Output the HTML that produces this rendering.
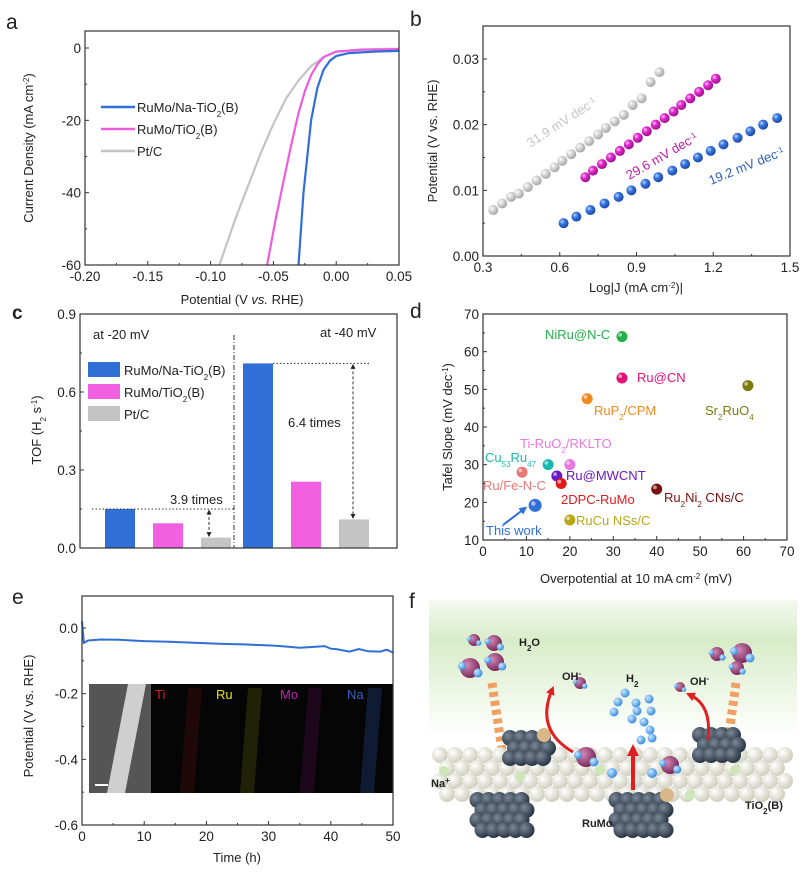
<!DOCTYPE html>
<html><head><meta charset="utf-8"><style>
html,body{margin:0;padding:0;background:#fff;}
svg{display:block;font-family:"Liberation Sans",Arial,sans-serif;}
text{fill:#222;}
</style></head><body>
<svg id="fig" width="807" height="876" viewBox="0 0 807 876" xmlns="http://www.w3.org/2000/svg">
<defs>
<radialGradient id="gBlue" cx="35%" cy="35%" r="65%"><stop offset="0" stop-color="#bcd6ff"/><stop offset="0.4" stop-color="#3a78e0"/><stop offset="1" stop-color="#1c4aa8"/></radialGradient>
<radialGradient id="gPink" cx="35%" cy="35%" r="65%"><stop offset="0" stop-color="#ffc8f6"/><stop offset="0.4" stop-color="#e42ad0"/><stop offset="1" stop-color="#a0108e"/></radialGradient>
<radialGradient id="gGray" cx="35%" cy="35%" r="65%"><stop offset="0" stop-color="#ffffff"/><stop offset="0.5" stop-color="#cfcfcf"/><stop offset="1" stop-color="#a8a8a8"/></radialGradient>
<radialGradient id="gBead" cx="35%" cy="35%" r="65%"><stop offset="0" stop-color="#ffffff"/><stop offset="1" stop-color="#cfcfbf"/></radialGradient>
<radialGradient id="gDark" cx="35%" cy="35%" r="65%"><stop offset="0" stop-color="#7a8898"/><stop offset="1" stop-color="#2a3644"/></radialGradient>
<radialGradient id="gPurp" cx="35%" cy="35%" r="65%"><stop offset="0" stop-color="#d58ab8"/><stop offset="1" stop-color="#7a2a5a"/></radialGradient>
<radialGradient id="gH" cx="35%" cy="35%" r="65%"><stop offset="0" stop-color="#cbe8ff"/><stop offset="1" stop-color="#3a8ee0"/></radialGradient>
<linearGradient id="gGreen" x1="0" y1="0" x2="0" y2="1"><stop offset="0" stop-color="#f4f9f0"/><stop offset="0.3" stop-color="#d8ecc8"/><stop offset="1" stop-color="#ffffff"/></linearGradient>
<marker id="arr" viewBox="0 0 10 10" refX="5" refY="5" markerWidth="5" markerHeight="5" orient="auto-start-reverse"><path d="M0,0 L10,5 L0,10 z" fill="#222"/></marker>
<marker id="arrB" viewBox="0 0 10 10" refX="5" refY="5" markerWidth="4" markerHeight="4" orient="auto"><path d="M0,0 L10,5 L0,10 z" fill="#2f6fd6"/></marker>
<marker id="arrR" viewBox="0 0 10 10" refX="5" refY="5" markerWidth="3" markerHeight="3" orient="auto"><path d="M0,0 L10,5 L0,10 z" fill="#e02020"/></marker>
</defs>

<text x="6" y="29" font-size="21">a</text>
<text x="410" y="26" font-size="21">b</text>
<text x="12" y="319" font-size="19" font-weight="bold">c</text>
<text x="410" y="318" font-size="21">d</text>
<text x="12" y="604" font-size="21">e</text>
<text x="409" y="608" font-size="21">f</text>

<g id="pa"></g>
<g id="pb"></g>
<g id="pc"></g>
<g id="pd"></g>
<g id="pe"></g>
<g id="pf"></g>
</svg>
<script>
// ---------- DATA ----------
const aBlueX = [0.05,0.03,0.01,0.0,-0.005,-0.01,-0.015,-0.02,-0.023,-0.026,-0.028,-0.03];
const aBlueY = [-0.8,-1.0,-1.4,-2.2,-3.5,-6,-11,-20,-30,-40,-50,-60];
const aPinkX = [0.05,0.02,0.0,-0.01,-0.015,-0.02,-0.025,-0.03,-0.036,-0.042,-0.048,-0.055];
const aPinkY = [-0.3,-0.5,-1.0,-2.5,-4.5,-7.5,-12,-18,-27,-37,-47,-60];
const aGrayX = [0.05,0.02,0.0,-0.01,-0.02,-0.03,-0.04,-0.05,-0.06,-0.07,-0.08,-0.093];
const aGrayY = [-0.2,-0.4,-1.0,-2.5,-5,-9,-14,-21,-29,-38,-47,-60];
const aXTicks = [-0.20,-0.15,-0.10,-0.05,0.00,0.05];
const aYTicks = [0,-20,-40,-60];
const bGrayX = [0.34,0.375,0.41,0.44,0.475,0.51,0.545,0.58,0.61,0.645,0.68,0.715,0.75,0.78,0.815,0.85,0.885,0.92,0.955,0.99];
const bGrayY2 = [0.007,0.008,0.009,0.0095,0.0105,0.0115,0.0125,0.0135,0.0145,0.0155,0.0165,0.0175,0.0185,0.0195,0.0205,0.0215,0.023,0.024,0.0265,0.028];
const bPinkX = [0.70,0.73,0.765,0.80,0.835,0.87,0.905,0.94,0.975,1.01,1.045,1.075,1.11,1.145,1.18,1.21];
const bPinkY = [0.012,0.013,0.014,0.015,0.016,0.017,0.018,0.019,0.020,0.021,0.022,0.023,0.024,0.025,0.026,0.027];
const bBlueX = [0.615,0.665,0.72,0.775,0.83,0.88,0.935,0.985,1.04,1.09,1.14,1.19,1.24,1.295,1.345,1.395,1.45];
const bBlueY = [0.005,0.006,0.007,0.008,0.009,0.010,0.011,0.012,0.013,0.014,0.015,0.016,0.017,0.018,0.019,0.020,0.021];
const bXTicks = [0.3,0.6,0.9,1.2,1.5];
const bYTicks = [0.00,0.01,0.02,0.03];
const cGroups = ["at -20 mV","at -40 mV"];
const cSeries = ["RuMo/Na-TiO2(B)","RuMo/TiO2(B)","Pt/C"];
const cVals20 = [0.15,0.095,0.04];
const cVals40 = [0.71,0.255,0.11];
const cYTicks = [0.0,0.3,0.6,0.9];
const dNames = ["NiRu@N-C","Ru@CN","RuP2/CPM","Sr2RuO4","Ti-RuO2/RKLTO","Cu53Ru47","Ru/Fe-N-C","Ru@MWCNT","2DPC-RuMo","Ru2Ni2 CNs/C","This work","RuCu NSs/C"];
const dEta = [32,32,24,61,20,15,9,17,18,40,12,20];
const dTafel = [64,53,47.5,51,30,30,28,27,25,23.5,19.2,15.3];
const dColors = ["#22b04a","#e0127a","#f08a1e","#7a7a10","#e878e0","#18b8b0","#e87878","#6a18c8","#e01818","#7a1010","#2f6fd6","#b8a818"];
const dXTicks = [0,10,20,30,40,50,60,70];
const dYTicks = [10,20,30,40,50,60,70];
const eTime = [0,0.3,1,3,6,10,14,18,22,26,30,32,35,37,39,40,41,43,44.5,46,48,49,50];
const ePot = [0.02,-0.045,-0.038,-0.035,-0.036,-0.04,-0.042,-0.045,-0.048,-0.05,-0.053,-0.055,-0.06,-0.058,-0.055,-0.063,-0.065,-0.072,-0.064,-0.071,-0.072,-0.066,-0.075];
const eXTicks = [0,10,20,30,40,50];
const eYTicks = [0.0,-0.2,-0.4,-0.6];

// ---------- HELPERS ----------
const NS="http://www.w3.org/2000/svg";
function mk(parent,tag,attrs){const e=document.createElementNS(NS,tag);for(const k in attrs)e.setAttribute(k,attrs[k]);parent.appendChild(e);return e;}
function lin(d0,d1,r0,r1){return v=>r0+(v-d0)*(r1-r0)/(d1-d0);}
function frame(g,x0,y0,x1,y1){const r=mk(g,'rect',{x:x0,y:y0,width:x1-x0,height:y1-y0,fill:'none',stroke:'#333','stroke-width':1.2});

}
function xTicks(g,ticks,sx,y,fmt,minor){ticks.forEach((t,i)=>{const x=sx(t);const l=mk(g,'line',{x1:x,x2:x,y1:y,y2:y-4,stroke:'#333'});


const tx=mk(g,'text',{x:x,y:y+16,'font-size':13.5,'text-anchor':'middle'});tx.textContent=fmt(t);


if(minor&&i<ticks.length-1){const xm=sx((t+ticks[i+1])/2);const m=mk(g,'line',{x1:xm,x2:xm,y1:y,y2:y-2,stroke:'#333'});

}});}
function yTicks(g,ticks,sy,x,fmt,minor){ticks.forEach((t,i)=>{const y=sy(t);const l=mk(g,'line',{x1:x,x2:x+4,y1:y,y2:y,stroke:'#333'});


const tx=mk(g,'text',{x:x-4,y:y+5,'font-size':13.5,'text-anchor':'end'});tx.textContent=fmt(t);


if(minor&&i<ticks.length-1){const ym=sy((t+ticks[i+1])/2);const m=mk(g,'line',{x1:x,x2:x+2,y1:ym,y2:ym,stroke:'#333'});

}});}
function label(g,x,y,html,size,name,anchor,rot,fill){const t=mk(g,'text',{x:x,y:y,'font-size':size,'text-anchor':anchor||'middle'});if(rot)t.setAttribute('transform',`rotate(${rot} ${x} ${y})`);if(fill)t.setAttribute('fill',fill);t.innerHTML=html;


if(fill)t.style.fill=fill;return t;}
const SUB=s=>`<tspan baseline-shift="sub" font-size="8">${s}</tspan>`;
const SUP=s=>`<tspan baseline-shift="super" font-size="8">${s}</tspan>`;

// ---------- PANEL A ----------
(function(){const g=document.getElementById('pa');
const sx=lin(-0.2,0.05,85,399), sy=lin(0,-60,48,265);
const cp=mk(g,'clipPath',{id:'clipA'});mk(cp,'rect',{x:85,y:31,width:314,height:234});
[[aGrayX,aGrayY,'#c4c4c4','curve-pt-c'],[aPinkX,aPinkY,'#ec5ce0','curve-rumo-tio2'],[aBlueX,aBlueY,'#2f6fd6','curve-rumo-na-tio2']].forEach(([X,Y,c,n])=>{
const p=mk(g,'path',{d:X.map((v,i)=>(i?'L':'M')+sx(v).toFixed(1)+','+sy(Y[i]).toFixed(1)).join(''),fill:'none',stroke:c,'stroke-width':2.2,'clip-path':'url(#clipA)'});

});
frame(g,85,31,399,265);
xTicks(g,aXTicks,sx,265,t=>t.toFixed(2),true);
yTicks(g,aYTicks,sy,85,t=>t.toString(),true);
label(g,242,304,'Potential (V <tspan font-style="italic">vs.</tspan> RHE)',13,'x-axis-title');
label(g,33,148,'Current Density (mA cm'+SUP('-2')+')',13,'y-axis-title','middle',-90);
[['#2f6fd6','RuMo/Na-TiO'+SUB('2')+'(B)'],['#ec5ce0','RuMo/TiO'+SUB('2')+'(B)'],['#c4c4c4','Pt/C']].forEach(([c,t],i)=>{const y=107+i*22;
const l=mk(g,'line',{x1:101,x2:135,y1:y,y2:y,stroke:c,'stroke-width':2.5});


label(g,137,y+5,t,13,'legend-entry','start');});})();

// ---------- PANEL B ----------
(function(){const g=document.getElementById('pb');
const sx=lin(0.3,1.5,483,790), sy=lin(0,0.03,256,59);
frame(g,483,26,790,256);
[[bGrayX,bGrayY2,'url(#gGray)','point-pt-c'],[bPinkX,bPinkY,'url(#gPink)','point-rumo-tio2'],[bBlueX,bBlueY,'url(#gBlue)','point-rumo-na-tio2']].forEach(([X,Y,f,n])=>{X.forEach((v,i)=>{const c=mk(g,'circle',{cx:sx(v),cy:sy(Y[i]),r:5,fill:f});

});});
xTicks(g,bXTicks,sx,256,t=>t.toFixed(1),true);
yTicks(g,bYTicks,sy,483,t=>t.toFixed(2),true);
label(g,636,292,'Log|J (mA cm'+SUP('-2')+')|',13,'x-axis-title');
label(g,437,141,'Potential (V vs. RHE)',13,'y-axis-title','middle',-90);
label(g,564,126,'31.9 mV dec'+SUP('-1'),13,'slope-label-pt-c','middle',-33,'#c4c4c4');
label(g,664,160,'29.6 mV dec'+SUP('-1'),13,'slope-label-rumo-tio2','middle',-30,'#c21aa8');
label(g,748,170,'19.2 mV dec'+SUP('-1'),13,'slope-label-rumo-na-tio2','middle',-22,'#2f5fb8');})();

// ---------- PANEL C ----------
(function(){const g=document.getElementById('pc');
const sy=lin(0,0.9,548,314);
const colors=['#2f6fd6','#f060e0','#c4c4c4'];
const groupStart=[105,243], step=48, bw=30;
[cVals20,cVals40].forEach((vals,gi)=>{vals.forEach((v,i)=>{const x=groupStart[gi]+i*step;
const r=mk(g,'rect',{x:x,y:sy(v),width:bw,height:sy(0)-sy(v),fill:colors[i]});

});});
frame(g,80,314,397,548);
yTicks(g,cYTicks,sy,80,t=>t.toFixed(1),true);
label(g,41,430,'TOF (H'+SUB('2')+' s'+SUP('-1')+')',13,'y-axis-title','middle',-90);
const dv=mk(g,'line',{x1:234,x2:234,y1:335,y2:548,stroke:'#333','stroke-dasharray':'5 2 1 2'});


label(g,93,339,'at -20 mV',13,'group-label-20mv','start');
label(g,320,337,'at -40 mV',13,'group-label-40mv','start');
const d1=mk(g,'line',{x1:92,x2:234,y1:sy(cVals20[0]),y2:sy(cVals20[0]),stroke:'#333','stroke-dasharray':'1.5 2'});


const d2=mk(g,'line',{x1:273,x2:371,y1:sy(cVals40[0]),y2:sy(cVals40[0]),stroke:'#333','stroke-dasharray':'1.5 2'});


const a1=mk(g,'line',{x1:209,x2:209,y1:sy(cVals20[0])+3,y2:sy(cVals20[2])-3,stroke:'#333','stroke-dasharray':'3 2','marker-start':'url(#arr)','marker-end':'url(#arr)'});


const a2=mk(g,'line',{x1:353,x2:353,y1:sy(cVals40[0])+3,y2:sy(cVals40[2])-3,stroke:'#333','stroke-dasharray':'3 2','marker-start':'url(#arr)','marker-end':'url(#arr)'});


label(g,170,504,'3.9 times',13,'ratio-label-20mv','start');
label(g,288,427,'6.4 times',13,'ratio-label-40mv','start');
[['RuMo/Na-TiO'+SUB('2')+'(B)'],['RuMo/TiO'+SUB('2')+'(B)'],['Pt/C']].forEach(([t],i)=>{const y=362+i*22;
const r=mk(g,'rect',{x:88,y:y,width:32,height:15,fill:colors[i]});


label(g,124,y+13,t,13,'legend-entry','start');});})();

// ---------- PANEL D ----------
(function(){const g=document.getElementById('pd');
const sx=lin(0,70,483,787), sy=lin(10,70,540,314);
frame(g,483,314,787,540);
dEta.forEach((v,i)=>{const r=(dNames[i]==='This work')?6.5:5.5;
const c=mk(g,'circle',{cx:sx(v),cy:sy(dTafel[i]),r:r,fill:dColors[i]});


const h=mk(g,'circle',{cx:sx(v)-1.8,cy:sy(dTafel[i])-1.8,r:r*0.35,fill:'#fff','fill-opacity':0.55});

});
const lbl=[['NiRu@N-C',545,339,'#22b04a'],['Ru@CN',637,382,'#e0127a'],['RuP'+SUB('2')+'/CPM',594,415,'#f08a1e'],['Sr'+SUB('2')+'RuO'+SUB('4'),705,415,'#7a7a10'],
['Ti-RuO'+SUB('2')+'/RKLTO',520,448,'#e878e0'],['Cu'+SUB('53')+'Ru'+SUB('47'),485,462,'#18b8b0'],['Ru/Fe-N-C',483,490,'#e87878'],['Ru@MWCNT',566,480,'#6a18c8'],
['2DPC-RuMo',561,504,'#e01818'],['Ru'+SUB('2')+'Ni'+SUB('2')+' CNs/C',664,502,'#7a1010'],['This work',486,535,'#2f6fd6'],['RuCu NSs/C',576,525,'#b8a818']];
lbl.forEach(([t,x,y,c])=>label(g,x,y,t,13,'point-label','start',0,c));
const ar=mk(g,'line',{x1:503,x2:524,y1:525,y2:509,stroke:'#2f6fd6','stroke-width':2,'marker-end':'url(#arrB)'});


xTicks(g,dXTicks,sx,540,t=>t.toString(),true);
yTicks(g,dYTicks,sy,483,t=>t.toString(),true);
label(g,636,583,'Overpotential at 10 mA cm'+SUP('-2')+' (mV)',13,'x-axis-title');
label(g,452,427,'Tafel Slope (mV dec'+SUP('-1')+')',13,'y-axis-title','middle',-90);})();

// ---------- PANEL E ----------
(function(){const g=document.getElementById('pe');
const sx=lin(0,50,82,393), sy=lin(0,-0.6,628,825);
const ins=mk(g,'rect',{x:89,y:684,width:304,height:109,fill:'#050505'});


const sem=mk(g,'rect',{x:89,y:684,width:62,height:109,fill:'#555'});


const rod=mk(g,'polygon',{points:'128,684 146,684 125,793 107,793',fill:'#cfcfcf'});


const sb=mk(g,'line',{x1:95,x2:108,y1:785,y2:785,stroke:'#fff','stroke-width':2});


[['Ti',155,'#d02020',180],['Ru',216,'#e0e020',240],['Mo',280,'#c020b0',300],['Na',347,'#3060c0',360]].forEach(([t,x,c,bx])=>{
label(g,x,699,t,13,'element-map-label-'+t.toLowerCase(),'start',0,c);
const band=mk(g,'polygon',{points:`${bx+8},688 ${bx+22},688 ${bx+14},793 ${bx},793`,fill:c,'fill-opacity':t==='Na'?0.25:0.13});

});
const p=mk(g,'path',{d:eTime.map((v,i)=>(i?'L':'M')+sx(v).toFixed(1)+','+sy(ePot[i]).toFixed(1)).join(''),fill:'none',stroke:'#2f6fd6','stroke-width':2});


frame(g,82,596,393,825);
xTicks(g,eXTicks,sx,825,t=>t.toString(),true);
yTicks(g,eYTicks,sy,82,t=>t.toFixed(1),true);
label(g,237,862,'Time (h)',13,'x-axis-title');
label(g,33,716,'Potential (V vs. RHE)',13,'y-axis-title','middle',-90);})();

// ---------- PANEL F ----------
(function(){const g=document.getElementById('pf');
const bg=mk(g,'rect',{x:429,y:600,width:368,height:135,fill:'url(#gGreen)'});


function ball(x,y,r,f,n){const c=mk(g,'circle',{cx:x,cy:y,r:r,fill:f});

}
[[492,683,505,770],[736,683,724,770]].forEach(([x1,y1,x2,y2])=>{const l=mk(g,'line',{x1,y1,x2,y2,stroke:'#f0a060','stroke-width':9,'stroke-dasharray':'5 4'});

});
for(let row=0;row<4;row++){for(let i=0;i<24;i++){const x=440+i*15+(row%2)*7;const y=755+row*13;if(x>790)continue;
ball(x,y,8,'url(#gBead)','tio2-bead');}}
[[444,771],[520,777],[600,770],[690,795],[735,770]].forEach(([x,y])=>ball(x,y,5,'#cde6b8','na-ion'));
function cluster(cx,cy,n,m){for(let r=0;r<m;r++)for(let i=0;i<n;i++)ball(cx+i*11-(n*11)/2+(r%2)*5,cy+r*10,8,'url(#gDark)','rumo-atom');}
cluster(505,800,5,4);cluster(532,738,4,3);cluster(644,800,5,4);cluster(722,735,4,3);
ball(544,735,7,'#d8b888','mo-atom');ball(667,795,7,'#d8b888','mo-atom');
[[470,668,10],[494,643,8],[474,640,6],[495,662,9],[742,653,10],[737,668,7],[717,654,7],[580,683,6],[680,687,5],[586,757,10],[670,765,9]].forEach(([x,y,r])=>{ball(x,y,r,'url(#gPurp)','oxygen-atom');ball(x+r*0.8,y+r*0.5,r*0.45,'url(#gH)','hydrogen-atom');ball(x-r*0.8,y-r*0.2,r*0.4,'url(#gH)','hydrogen-atom');});
[[618,702],[625,693],[636,703],[649,699],[651,711],[644,722],[632,719],[650,730],[641,740],[652,738],[614,712],[637,711]].forEach(([x,y])=>ball(x,y,4.5,'url(#gH)','hydrogen-molecule-atom'));
ball(612,773,5,'url(#gH)','adsorbed-h');ball(652,773,5,'url(#gH)','adsorbed-h');
const r1=mk(g,'path',{d:'M573,752 Q535,730 552,690',fill:'none',stroke:'#e02020','stroke-width':3,'marker-end':'url(#arrR)'});


const r2=mk(g,'path',{d:'M708,740 Q712,705 690,695',fill:'none',stroke:'#e02020','stroke-width':3,'marker-end':'url(#arrR)'});


const r3=mk(g,'line',{x1:633,x2:633,y1:790,y2:750,stroke:'#e02020','stroke-width':4,'marker-end':'url(#arrR)'});


label(g,519,646,'H'+SUB('2')+'O',11,'h2o-label','start');
label(g,562,680,'OH'+SUP('-'),11,'oh-label-left','start');
label(g,626,682,'H'+SUB('2'),11,'h2-label','start');
label(g,690,685,'OH'+SUP('-'),11,'oh-label-right','start');
label(g,431,787,'Na'+SUP('+'),11,'na-label','start');
label(g,582,827,'RuMo',11,'rumo-label','start');
label(g,745,809,'TiO'+SUB('2')+'(B)',11,'tio2-label','start');
g.querySelectorAll('text').forEach(t=>t.setAttribute('font-weight','bold'));})();
</script>
</body></html>
